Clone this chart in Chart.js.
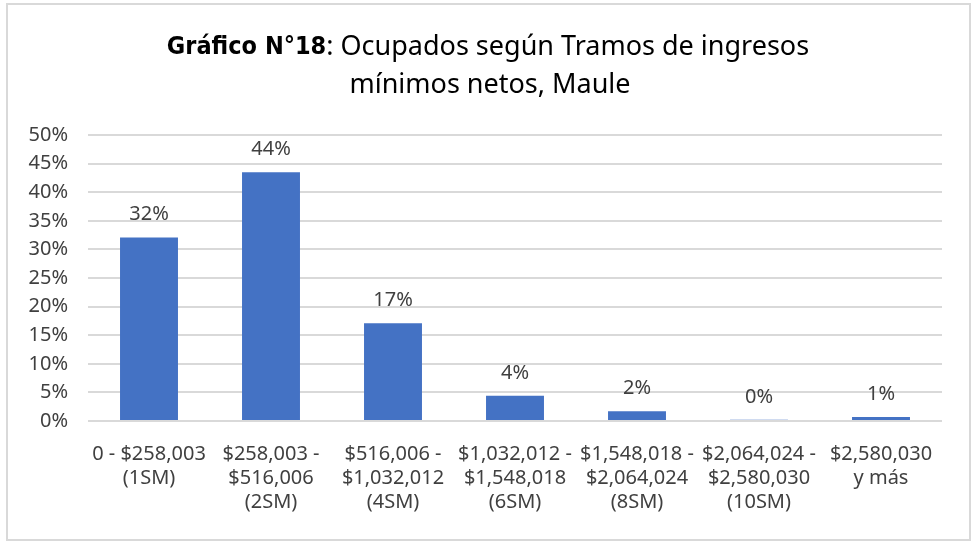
<!DOCTYPE html>
<html>
<head>
<meta charset="utf-8">
<script src="https://cdn.jsdelivr.net/npm/chart.js@4"></script>
<style>
  html, body { margin: 0; padding: 0; background: #fff; }
  #wrap { width: 973px; height: 544px; position: relative; }
</style>
</head>
<body>
<div id="wrap"><canvas id="grafico"></canvas></div>
<script>
// Tramos de ingreso (etiquetas en varias líneas)
const tramos = [
    ["0 - $258,003", "(1SM)"],
    ["$258,003 -", "$516,006", "(2SM)"],
    ["$516,006 -", "$1,032,012", "(4SM)"],
    ["$1,032,012 -", "$1,548,018", "(6SM)"],
    ["$1,548,018 -", "$2,064,024", "(8SM)"],
    ["$2,064,024 -", "$2,580,030", "(10SM)"],
    ["$2,580,030", "y más"]
];
// Porcentaje de ocupados
const ocupados = [32.1, 43.5, 17.1, 4.4, 1.7, 0.2, 0.7];
const ticksY = [0, 5, 10, 15, 20, 25, 30, 35, 40, 45, 50];
const tituloNegrita = "Gráfico N°18";
const tituloResto = ": Ocupados según Tramos de ingresos";
const tituloLinea2 = "mínimos netos, Maule";

const fuente = "'Noto Sans', 'Open Sans', sans-serif";

// Marco, título y etiquetas de datos
const extras = {
    id: "extras",
    beforeDraw(chart) {
        const ctx = chart.ctx;
        ctx.save();
        ctx.fillStyle = "#fff";
        ctx.fillRect(0, 0, chart.width, chart.height);
        ctx.strokeStyle = "#d9d9d9";
        ctx.lineWidth = 2;
        ctx.strokeRect(7, 4, 963, 536);
        ctx.restore();
    },
    afterDraw(chart) {
        const ctx = chart.ctx;
        ctx.save();
        ctx.fillStyle = "#000";
        ctx.textBaseline = "middle";
        // línea 1 del título con parte en negrita
        const fBold = "bold 25px 'Liberation Sans Narrow', 'DejaVu Sans Condensed', sans-serif";
        const fNorm = "27px " + fuente;
        ctx.font = fBold;
        const w1 = ctx.measureText(tituloNegrita).width;
        ctx.font = fNorm;
        const w2 = ctx.measureText(tituloResto).width;
        let x = 488 - (w1 + w2) / 2;
        ctx.textAlign = "left";
        ctx.font = fBold;
        ctx.fillText(tituloNegrita, x, 47);
        ctx.font = fNorm;
        ctx.fillText(tituloResto, x + w1, 47);
        ctx.textAlign = "center";
        ctx.fillText(tituloLinea2, 490, 85);

        // etiquetas sobre las barras
        ctx.font = "20px " + fuente;
        ctx.fillStyle = "#404040";
        ctx.textBaseline = "alphabetic";
        const meta = chart.getDatasetMeta(0);
        meta.data.forEach((bar, i) => {
            ctx.fillText(Math.round(ocupados[i]) + "%", bar.x, bar.y - 17);
        });
        ctx.restore();
    }
};

new Chart(document.getElementById("grafico"), {
    type: "bar",
    data: {
        labels: tramos,
        datasets: [{
            data: ocupados,
            backgroundColor: "#4472c4",
            barPercentage: 0.475,
            categoryPercentage: 1
        }]
    },
    options: {
        responsive: true,
        maintainAspectRatio: false,
        animation: false,
        layout: { padding: { top: 135, right: 31, bottom: 0, left: 0 } },
        plugins: {
            legend: { display: false },
            tooltip: { enabled: false }
        },
        scales: {
            x: {
                grid: { display: false },
                border: { display: false },
                ticks: {
                    color: "#404040",
                    font: { family: fuente, size: 20 },
                    padding: 13,
                    maxRotation: 0,
                    autoSkip: false
                },
                afterFit(scale) { scale.height = 123; }
            },
            y: {
                min: 0,
                max: 50,
                afterBuildTicks(scale) { scale.ticks = ticksY.map(v => ({ value: v })); },
                grid: { color: "#d9d9d9", lineWidth: 2, drawTicks: false },
                border: { display: false },
                ticks: {
                    color: "#404040",
                    font: { family: fuente, size: 20 },
                    padding: 20,
                    callback: v => v + "%"
                },
                afterFit(scale) { scale.width = 88; }
            }
        }
    },
    plugins: [extras]
});
</script>
</body>
</html>
